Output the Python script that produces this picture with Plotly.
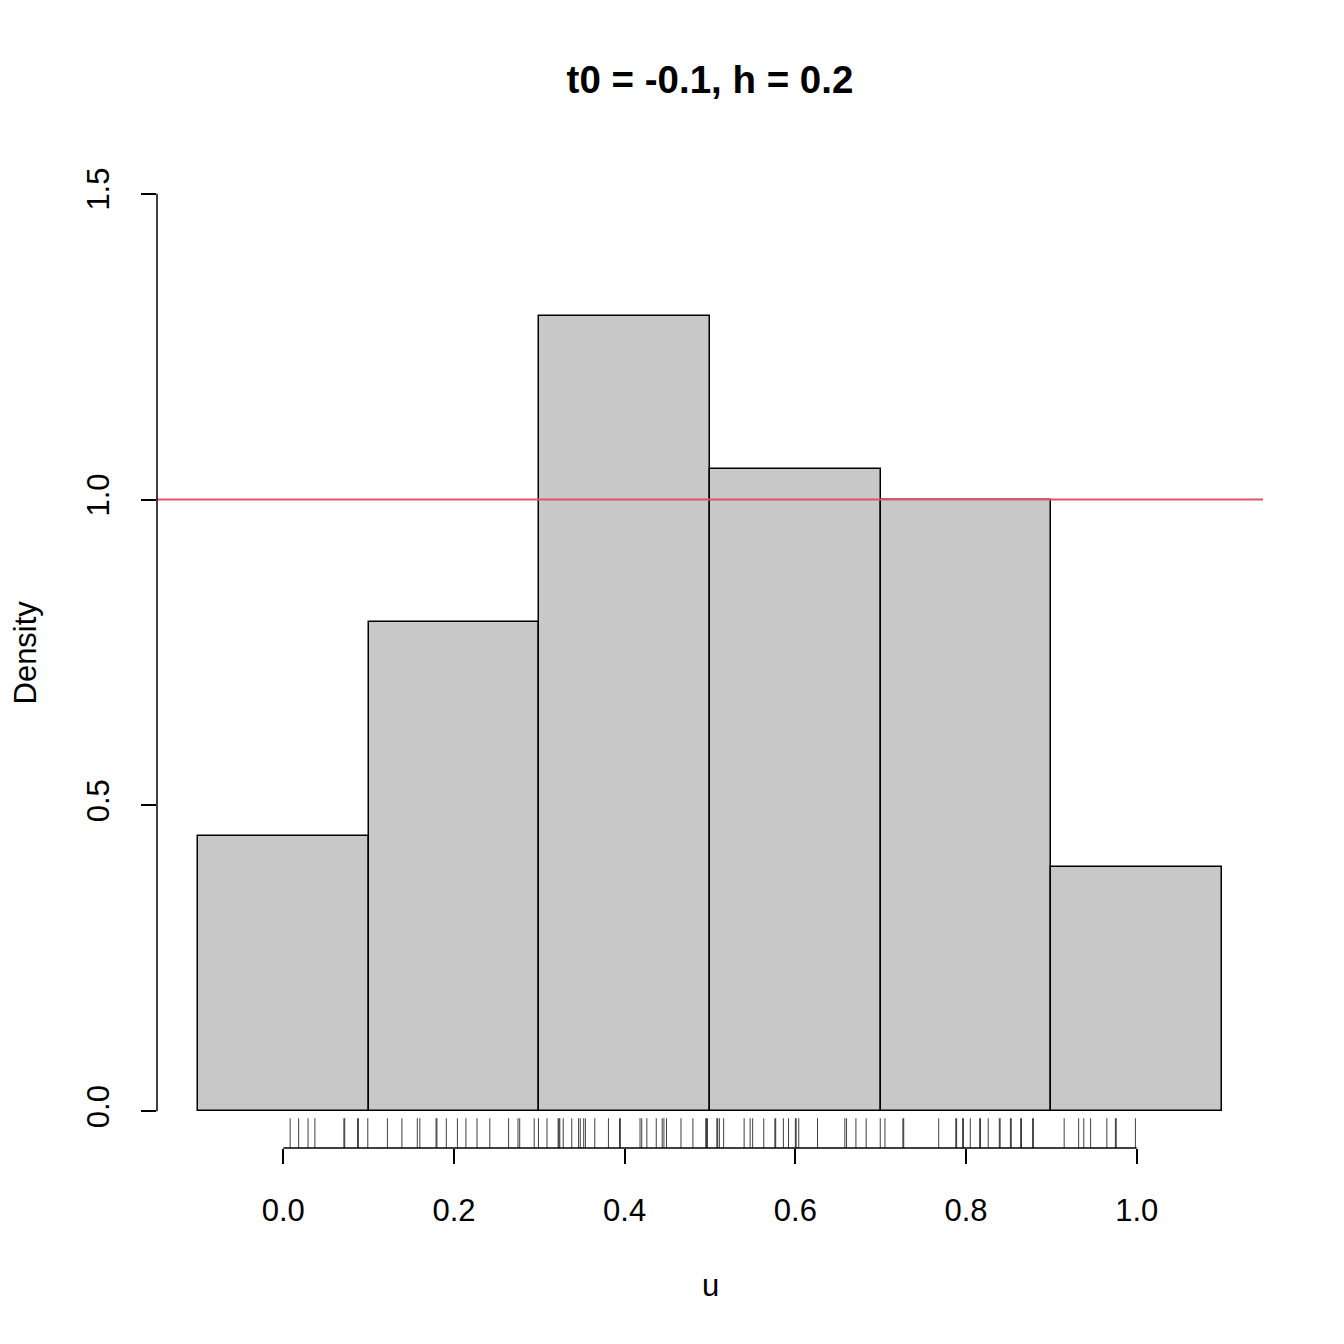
import plotly.graph_objects as go

# sample values, 100 points
u = [
    0.008, 0.018, 0.029, 0.037, 0.071, 0.072, 0.087, 0.088, 0.099,
    0.122, 0.139, 0.157, 0.160, 0.179, 0.180, 0.191, 0.204, 0.214, 0.227,
    0.242, 0.264, 0.275, 0.277, 0.294, 0.299,
    0.309, 0.322, 0.323, 0.324, 0.328, 0.338, 0.346, 0.348, 0.352, 0.354,
    0.365, 0.381, 0.394, 0.395, 0.418, 0.420, 0.426, 0.437, 0.444, 0.446,
    0.449, 0.466, 0.480, 0.495, 0.496, 0.497,
    0.508, 0.509, 0.511, 0.516, 0.540, 0.547, 0.550, 0.563, 0.576, 0.577,
    0.586, 0.592, 0.600, 0.601, 0.604, 0.626, 0.658, 0.660, 0.671, 0.683,
    0.6995,
    0.705, 0.726, 0.727, 0.768, 0.788, 0.789, 0.796, 0.797, 0.805, 0.816,
    0.817, 0.826, 0.839, 0.840, 0.852, 0.853, 0.864, 0.865, 0.878, 0.879,
    0.915, 0.932, 0.938, 0.946, 0.965, 0.975, 0.976, 0.9985,
]

t0 = -0.1
h = 0.2
bin_end = 1.1
ref_density = 1.0

x_ticks = [0.0, 0.2, 0.4, 0.6, 0.8, 1.0]
y_ticks = [0.0, 0.5, 1.0, 1.5]

# R-like axis ranges (4% extension)
x_range = [t0 - 0.04 * (bin_end - t0), bin_end + 0.04 * (bin_end - t0)]
y_range = [-0.04 * 1.5, 1.5 + 0.04 * 1.5]
rug_len = 0.03 * (y_range[1] - y_range[0])

font = "Liberation Sans, Arial, Helvetica, sans-serif"

fig = go.Figure()

fig.add_trace(go.Histogram(
    x=u,
    histnorm='probability density',
    xbins=dict(start=t0, end=bin_end, size=h),
    marker=dict(color='#C8C8C8', line=dict(color='black', width=1.5)),
    hoverinfo='skip',
    showlegend=False,
))

# rug
rx, ry = [], []
for v in u:
    rx += [v, v, None]
    ry += [y_range[0], y_range[0] + rug_len, None]
fig.add_trace(go.Scatter(
    x=rx, y=ry, mode='lines',
    line=dict(color='rgba(0,0,0,0.75)', width=1),
    hoverinfo='skip', showlegend=False, cliponaxis=False,
))

# uniform density reference line
fig.add_shape(type='line', xref='paper', x0=0, x1=1, yref='y',
              y0=ref_density, y1=ref_density,
              line=dict(color='#DF536B', width=2))

# R-style axis lines that only span the ticks
fig.add_shape(type='line', xref='paper', x0=0, x1=0, yref='y',
              y0=y_ticks[0], y1=y_ticks[-1], line=dict(color='black', width=1.5))
fig.add_shape(type='line', xref='x', x0=x_ticks[0], x1=x_ticks[-1], yref='paper',
              y0=0, y1=0, line=dict(color='black', width=1.5))

fig.update_layout(
    width=1344, height=1344, autosize=False,
    margin=dict(l=149, r=89, t=149, b=204),
    paper_bgcolor='white', plot_bgcolor='white',
    bargap=0,
    font=dict(family=font, size=31, color='black'),
    title=dict(text='<b>t0 = -0.1, h = 0.2</b>', x=0.5, xref='paper',
               y=1 - 72 / 1344, yanchor='middle', xanchor='center',
               font=dict(size=38.5, family=font, color='black')),
    xaxis=dict(range=x_range, tickvals=x_ticks,
               ticktext=[f"{v:.1f}" for v in x_ticks],
               ticks='outside', ticklen=15, tickwidth=1.5, tickcolor='black',
               showline=False, showgrid=False, zeroline=False,
               ticklabelstandoff=20),
    yaxis=dict(range=y_range, tickvals=y_ticks,
               ticktext=[f"{v:.1f}" for v in y_ticks],
               ticks='outside', ticklen=15, tickwidth=1.5, tickcolor='black',
               tickangle=-90,
               showline=False, showgrid=False, zeroline=False,
               ticklabelstandoff=20),
    annotations=[
        dict(text='u', xref='paper', yref='paper', x=0.5, y=-(1285 - 1148) / 991,
             xanchor='center', yanchor='middle', showarrow=False,
             font=dict(size=31, family=font)),
        dict(text='Density', xref='paper', yref='paper', x=(25 - 157) / 1106, y=0.5,
             xanchor='center', yanchor='middle', textangle=-90, showarrow=False,
             font=dict(size=31, family=font)),
    ],
)

fig.write_html("out.html")
